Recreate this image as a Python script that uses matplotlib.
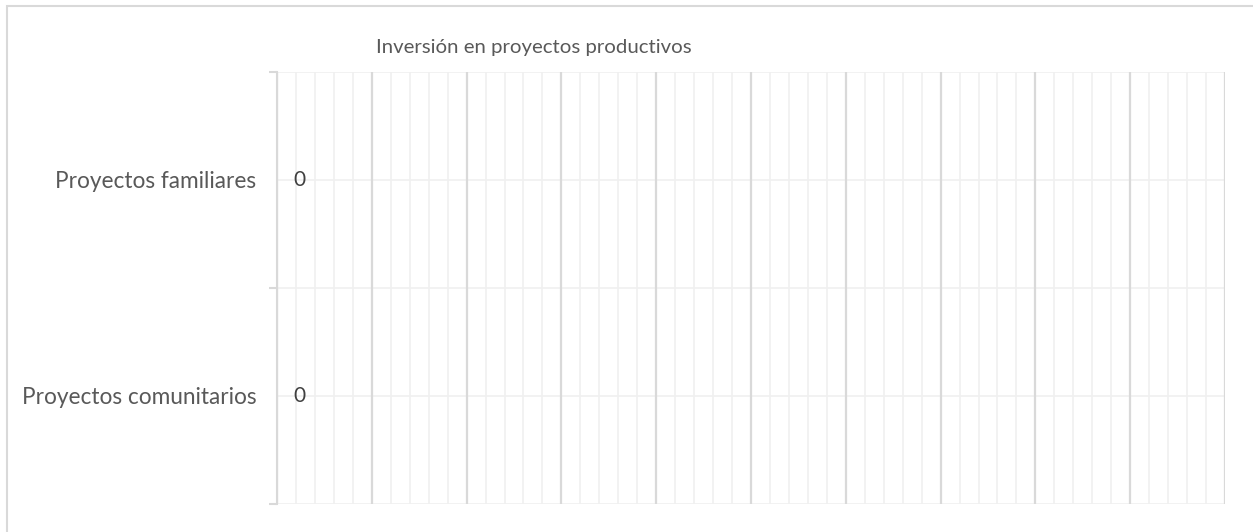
import matplotlib
matplotlib.use("Agg")
import matplotlib.pyplot as plt
from matplotlib.patches import Rectangle
from matplotlib.ticker import MultipleLocator, FixedLocator

plt.rcParams['font.family'] = ['Lato', 'DejaVu Sans']

# datos
categorias = ["Proyectos comunitarios", "Proyectos familiares"]
valores = [0, 0]
titulo = "Inversión en proyectos productivos"

W, H = 1253, 532
fig = plt.figure(figsize=(W / 100, H / 100), dpi=100)
ax = fig.add_axes([277 / W, 1 - 504 / H, (1225 - 277) / W, (504 - 72) / H])

pos = list(range(len(categorias)))
bars = ax.barh(pos, valores, height=0.6, color='#4472c4')
ax.bar_label(bars, labels=[str(v) for v in valores], padding=11.5,
             fontsize=15, color='#404040')

ax.set_xlim(0, 10)
ax.set_ylim(-0.5, len(categorias) - 0.5)
ax.xaxis.set_major_locator(MultipleLocator(1))
ax.xaxis.set_minor_locator(MultipleLocator(0.2))
ax.set_xticklabels([])
ax.tick_params(axis='x', which='both', length=0)

ax.set_yticks(pos)
ax.set_yticklabels(categorias, fontsize=16.3, color='#595959')
ax.yaxis.set_minor_locator(FixedLocator([-0.5, 0.5, 1.5]))
ax.tick_params(axis='y', which='major', length=0, pad=15)
ax.tick_params(axis='y', which='minor', length=6, width=1.5, color='#d9d9d9')

ax.set_axisbelow(True)
ax.grid(axis='x', which='major', color='#d9d9d9', lw=1.6)
ax.grid(axis='x', which='minor', color='#f0f0f0', lw=1.2)
for y in [-0.5, 0, 0.5, 1, 1.5]:
    ax.axhline(y, color='#f0f0f0', lw=1.2, zorder=0)

for s in ['top', 'right', 'bottom']:
    ax.spines[s].set_visible(False)
ax.spines['left'].set_color('#d9d9d9')
ax.spines['left'].set_linewidth(1.5)

fig.text(534 / W, 1 - 47 / H, titulo, ha='center', va='center',
         fontsize=14.7, color='#595959')

fig.add_artist(Rectangle((6.5 / W, -0.1), 2, 1.1 - 5.5 / H,
                         transform=fig.transFigure, fill=False,
                         ec='#d9d9d9', lw=1.5))

fig.savefig("out.png", dpi=100)
